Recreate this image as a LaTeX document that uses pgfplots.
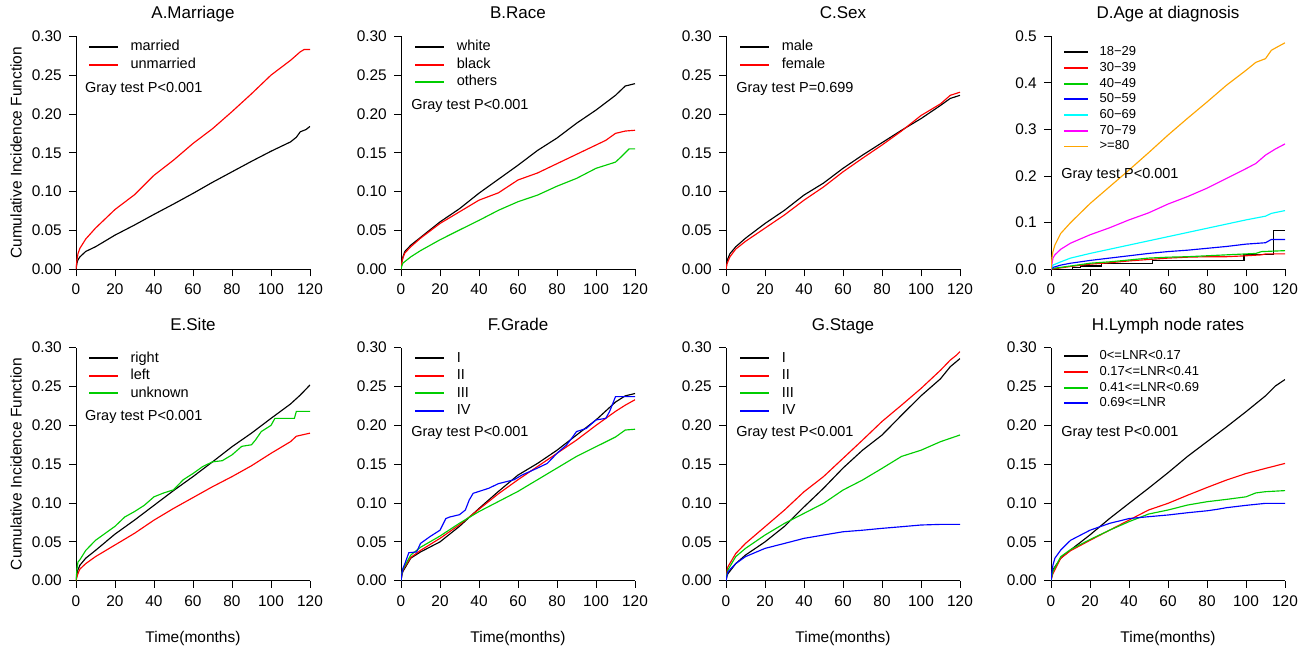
\documentclass[border=0pt]{standalone}
\usepackage{fontspec}
\setmainfont{Liberation Sans}
\usepackage{pgfplots}
\pgfplotsset{compat=1.18}
\definecolor{rgreen}{RGB}{0,205,0}
\definecolor{rblue}{RGB}{0,0,255}
\definecolor{rred}{RGB}{255,0,0}
\definecolor{rcyan}{RGB}{0,255,255}
\definecolor{rmag}{RGB}{255,0,255}
\definecolor{rorange}{RGB}{255,165,0}
\pgfplotsset{legend image code/.code={\draw[#1, line width=1.8pt] (0pt,0pt) -- (29pt,0pt); \path (41pt,0pt);}}
\pgfplotsset{
  cif/.style={
    scale only axis, width=234pt, height=233pt,
    xmin=0, xmax=120, ymin=0, ymax=0.3,
    axis lines=left, axis line style={-, line width=0.9pt},
    xtick={0,20,40,60,80,100,120},
    ytick={0,0.05,0.1,0.15,0.2,0.25,0.3},
    tick align=outside, major tick length=7pt,
    tick style={black, line width=0.9pt},
    xticklabel shift=7.7pt, yticklabel shift=7pt,
    /pgf/number format/assume math mode=true,
    yticklabel style={/pgf/number format/fixed, /pgf/number format/fixed zerofill, /pgf/number format/precision=2},
    ticklabel style={font=\fontsize{15.4}{18}\selectfont, inner sep=0pt},
    title style={at={(axis description cs:0.5,1)}, anchor=base, yshift=11.5pt, font=\fontsize{17}{20}\selectfont},
    xlabel style={at={(axis description cs:0.5,0)}, anchor=base, yshift=-62pt, font=\fontsize{15.5}{18}\selectfont},
    ylabel style={at={([xshift=-60pt]axis description cs:0,0.5)}, anchor=center, font=\fontsize{15.5}{18}\selectfont},
    every axis plot/.append style={line width=1.15pt},
    legend cell align=left,
    legend style={draw=none, fill=none, anchor=north west, inner sep=0pt, row sep=0pt,
      font=\fontsize{14.5}{17}\selectfont,
      nodes={inner sep=0pt, minimum height=17.5pt, text height=10.5pt, text depth=3pt}},
  },
  smallleg/.style={legend style={font=\fontsize{13}{15}\selectfont,
      nodes={inner sep=0pt, minimum height=15.7pt, text height=9.5pt, text depth=2.7pt}}},
}
\newcommand{\gray}[3]{\node[anchor=west, inner sep=0pt, font=\fontsize{14.5}{17}\selectfont] at (rel axis cs:#1,#2) {Gray test #3};}
\begin{document}
\begin{tikzpicture}
\useasboundingbox (0,0) rectangle (1310pt,647pt);
% ---------------- A
\begin{axis}[cif, at={(76pt,377.7pt)}, anchor=south west, title={A.Marriage},
  ylabel={Cumulative Incidence Function},
  legend style={at={(axis description cs:0.051,0.992)}}]
\addplot[black] coordinates {(0,0) (0.5,0.008) (1,0.012) (2,0.016) (5,0.023) (10,0.029) (20,0.044) (30,0.057) (40,0.0707) (50,0.084) (60,0.0977) (70,0.112) (80,0.1255) (90,0.139) (100,0.152) (105,0.158) (110,0.164) (113,0.170) (115,0.177) (118,0.180) (120,0.184)};
\addlegendentry{married}
\addplot[rred] coordinates {(0,0) (0.5,0.012) (1,0.02) (2,0.027) (5,0.039) (10,0.053) (20,0.077) (30,0.096) (40,0.121) (50,0.1405) (60,0.162) (70,0.181) (80,0.203) (90,0.226) (100,0.25) (110,0.269) (115,0.28) (117,0.283) (120,0.283)};
\addlegendentry{unmarried}
\gray{0.038}{0.774}{P<0.001}
\end{axis}
% ---------------- B
\begin{axis}[cif, at={(401pt,377.7pt)}, anchor=south west, title={B.Race},
  legend style={at={(axis description cs:0.056,0.992)}}]
\addplot[black] coordinates {(0,0) (0.5,0.01) (1,0.016) (2,0.023) (5,0.031) (10,0.041) (20,0.061) (30,0.078) (40,0.098) (50,0.116) (60,0.134) (70,0.153) (80,0.169) (90,0.188) (100,0.205) (110,0.224) (115,0.236) (120,0.239)};
\addlegendentry{white}
\addplot[rred] coordinates {(0,0) (0.5,0.01) (1,0.015) (2,0.021) (5,0.029) (10,0.040) (20,0.059) (30,0.074) (40,0.089) (50,0.0985) (60,0.115) (70,0.124) (80,0.136) (90,0.148) (100,0.16) (105,0.166) (110,0.175) (115,0.178) (120,0.179)};
\addlegendentry{black}
\addplot[rgreen] coordinates {(0,0) (0.5,0.005) (1,0.008) (5,0.016) (10,0.024) (20,0.038) (30,0.0506) (40,0.063) (50,0.076) (60,0.087) (70,0.0955) (80,0.107) (90,0.117) (100,0.13) (105,0.134) (110,0.138) (113,0.145) (115,0.15) (117,0.155) (120,0.155)};
\addlegendentry{others}
\gray{0.043}{0.70}{P<0.001}
\end{axis}
% ---------------- C
\begin{axis}[cif, at={(726pt,377.7pt)}, anchor=south west, title={C.Sex},
  legend style={at={(axis description cs:0.056,0.992)}}]
\addplot[black] coordinates {(0,0) (0.5,0.01) (1,0.014) (2,0.02) (5,0.029) (10,0.040) (20,0.059) (30,0.076) (40,0.0956) (50,0.111) (60,0.13) (70,0.147) (80,0.163) (90,0.179) (100,0.194) (110,0.211) (115,0.22) (120,0.224)};
\addlegendentry{male}
\addplot[rred] coordinates {(0,0) (0.5,0.007) (1,0.01) (2,0.016) (5,0.026) (10,0.036) (20,0.053) (30,0.07) (40,0.089) (50,0.106) (60,0.1255) (70,0.143) (80,0.16) (90,0.178) (100,0.198) (110,0.213) (115,0.224) (120,0.228)};
\addlegendentry{female}
\gray{0.043}{0.774}{P=0.699}
\end{axis}
% ---------------- D
\begin{axis}[cif, smallleg, at={(1051pt,377.7pt)}, anchor=south west, title={D.Age at diagnosis},
  ymax=0.5, ytick={0,0.1,0.2,0.3,0.4,0.5},
  yticklabel style={/pgf/number format/precision=1},
  legend image code/.code={\draw[#1, line width=1.8pt] (0pt,0pt) -- (24pt,0pt); \path (35pt,0pt);},
  legend style={at={(axis description cs:0.051,0.966)}}]
\addplot[black, const plot] coordinates {(0,0) (11,0.003) (15,0.007) (26,0.013) (52,0.018) (99,0.032) (114,0.083) (120,0.083)};
\addlegendentry{18−29}
\addplot[rred] coordinates {(0,0) (10,0.006) (20,0.011) (30,0.014) (40,0.018) (50,0.021) (60,0.024) (70,0.026) (80,0.027) (90,0.027) (100,0.029) (108,0.031) (110,0.033) (120,0.033)};
\addlegendentry{30−39}
\addplot[rgreen] coordinates {(0,0) (1,0.002) (10,0.007) (20,0.013) (30,0.016) (40,0.02) (50,0.024) (60,0.026) (70,0.027) (80,0.029) (90,0.031) (100,0.033) (105,0.034) (108,0.038) (120,0.04)};
\addlegendentry{40−49}
\addplot[rblue] coordinates {(0,0) (1,0.004) (5,0.009) (10,0.013) (20,0.019) (30,0.024) (40,0.029) (50,0.034) (60,0.038) (70,0.041) (80,0.045) (90,0.049) (100,0.054) (110,0.057) (113,0.064) (120,0.064)};
\addlegendentry{50−59}
\addplot[rcyan] coordinates {(0,0) (1,0.009) (5,0.016) (10,0.024) (20,0.034) (30,0.043) (40,0.052) (50,0.061) (60,0.07) (70,0.079) (80,0.088) (90,0.097) (100,0.106) (110,0.114) (113,0.12) (120,0.126)};
\addlegendentry{60−69}
\addplot[rmag] coordinates {(0,0) (0.5,0.012) (1,0.024) (2,0.031) (5,0.043) (10,0.056) (20,0.074) (30,0.089) (40,0.106) (50,0.121) (60,0.14) (70,0.156) (80,0.174) (90,0.195) (100,0.216) (105,0.227) (110,0.245) (115,0.258) (120,0.269)};
\addlegendentry{70−79}
\addplot[rorange] coordinates {(0,0) (0.5,0.025) (1,0.038) (2,0.052) (5,0.077) (10,0.1) (20,0.141) (30,0.177) (40,0.213) (50,0.25) (60,0.288) (70,0.324) (80,0.359) (90,0.395) (100,0.427) (105,0.444) (110,0.452) (113,0.47) (116,0.477) (120,0.486)};
\addlegendentry{>=80}
\gray{0.043}{0.405}{P<0.001}
\end{axis}
% ---------------- E
\begin{axis}[cif, at={(76pt,66.3pt)}, anchor=south west, title={E.Site},
  ylabel={Cumulative Incidence Function}, xlabel={Time(months)},
  legend style={at={(axis description cs:0.051,0.993)}}]
\addplot[black] coordinates {(0,0) (0.5,0.009) (1,0.014) (2,0.02) (5,0.029) (10,0.039) (20,0.06) (30,0.078) (40,0.097) (50,0.116) (60,0.134) (70,0.153) (80,0.1725) (90,0.19) (100,0.209) (110,0.2275) (115,0.239) (120,0.252)};
\addlegendentry{right}
\addplot[rred] coordinates {(0,0) (0.5,0.005) (1,0.009) (2,0.015) (5,0.022) (10,0.031) (20,0.046) (30,0.061) (40,0.078) (50,0.093) (60,0.107) (70,0.121) (80,0.134) (90,0.148) (100,0.164) (110,0.179) (113,0.186) (120,0.19)};
\addlegendentry{left}
\addplot[rgreen] coordinates {(0,0) (0.5,0.015) (1,0.024) (2,0.027) (5,0.039) (10,0.052) (15,0.061) (20,0.07) (25,0.082) (30,0.089) (35,0.097) (40,0.108) (45,0.113) (50,0.117) (55,0.13) (60,0.138) (65,0.147) (70,0.153) (75,0.1545) (80,0.162) (85,0.173) (90,0.175) (92,0.181) (95,0.192) (100,0.2) (102,0.209) (112,0.209) (113,0.218) (120,0.218)};
\addlegendentry{unknown}
\gray{0.038}{0.703}{P<0.001}
\end{axis}
% ---------------- F
\begin{axis}[cif, at={(401pt,66.3pt)}, anchor=south west, title={F.Grade},
  xlabel={Time(months)},
  legend style={at={(axis description cs:0.056,0.993)}}]
\addplot[black] coordinates {(0,0) (0.5,0.008) (1,0.012) (5,0.029) (10,0.037) (20,0.05) (30,0.07) (40,0.093) (50,0.115) (60,0.136) (70,0.151) (80,0.168) (90,0.1875) (100,0.207) (110,0.23) (115,0.238) (120,0.241)};
\addlegendentry{I}
\addplot[rred] coordinates {(0,0) (0.5,0.009) (1,0.014) (5,0.03) (10,0.039) (20,0.0545) (30,0.072) (40,0.092) (50,0.112) (60,0.13) (70,0.147) (80,0.164) (90,0.181) (100,0.2) (110,0.218) (115,0.226) (120,0.233)};
\addlegendentry{II}
\addplot[rgreen] coordinates {(0,0) (0.5,0.01) (1,0.015) (5,0.033) (10,0.043) (20,0.0575) (30,0.074) (40,0.089) (50,0.102) (60,0.115) (70,0.13) (80,0.145) (90,0.16) (100,0.1725) (110,0.185) (115,0.194) (120,0.195)};
\addlegendentry{III}
\addplot[rblue] coordinates {(0,0) (0.5,0.01) (1,0.016) (2,0.022) (4,0.036) (8,0.037) (10,0.048) (15,0.057) (20,0.065) (23,0.08) (25,0.082) (30,0.085) (33,0.091) (35,0.104) (37,0.1125) (45,0.119) (50,0.125) (58,0.13) (62,0.136) (70,0.145) (75,0.151) (80,0.164) (85,0.175) (88,0.185) (90,0.192) (95,0.196) (100,0.207) (105,0.209) (107,0.218) (110,0.237) (120,0.237)};
\addlegendentry{IV}
\gray{0.043}{0.634}{P<0.001}
\end{axis}
% ---------------- G
\begin{axis}[cif, at={(726pt,66.3pt)}, anchor=south west, title={G.Stage},
  xlabel={Time(months)},
  legend style={at={(axis description cs:0.056,0.993)}}]
\addplot[black] coordinates {(0,0) (0.5,0.006) (1,0.009) (5,0.022) (10,0.033) (20,0.05) (30,0.07) (40,0.095) (50,0.119) (60,0.145) (70,0.168) (80,0.1875) (90,0.213) (100,0.238) (110,0.26) (115,0.2755) (120,0.286)};
\addlegendentry{I}
\addplot[rred] coordinates {(0,0) (0.5,0.012) (1,0.018) (5,0.035) (10,0.048) (20,0.0695) (30,0.091) (40,0.1145) (50,0.134) (60,0.1575) (70,0.181) (80,0.205) (90,0.226) (100,0.2475) (110,0.271) (115,0.284) (118,0.29) (120,0.295)};
\addlegendentry{II}
\addplot[rgreen] coordinates {(0,0) (0.5,0.009) (1,0.014) (5,0.031) (10,0.0416) (20,0.0588) (30,0.0738) (40,0.0867) (50,0.0996) (60,0.1167) (70,0.1296) (80,0.1446) (90,0.16) (100,0.168) (110,0.179) (120,0.1876)};
\addlegendentry{III}
\addplot[rblue] coordinates {(0,0) (0.5,0.007) (1,0.0116) (5,0.022) (10,0.031) (20,0.0416) (30,0.048) (40,0.0545) (50,0.0588) (60,0.063) (70,0.065) (80,0.0674) (90,0.0695) (100,0.0717) (110,0.0725) (120,0.0725)};
\addlegendentry{IV}
\gray{0.043}{0.634}{P<0.001}
\end{axis}
% ---------------- H
\begin{axis}[cif, smallleg, at={(1051pt,66.3pt)}, anchor=south west, title={H.Lymph node rates},
  xlabel={Time(months)},
  legend image code/.code={\draw[#1, line width=1.8pt] (0pt,0pt) -- (24pt,0pt); \path (35pt,0pt);},
  legend style={at={(axis description cs:0.051,0.998)}}]
\addplot[black] coordinates {(0,0) (0.5,0.009) (1,0.014) (5,0.029) (10,0.0395) (20,0.059) (30,0.08) (40,0.0996) (50,0.119) (60,0.139) (70,0.16) (80,0.179) (90,0.198) (100,0.2176) (110,0.238) (115,0.2506) (120,0.259)};
\addlegendentry{0<=LNR<0.17}
\addplot[rred] coordinates {(0,0) (0.5,0.005) (1,0.009) (5,0.029) (10,0.0386) (20,0.052) (30,0.065) (40,0.078) (50,0.091) (60,0.0996) (70,0.11) (80,0.12) (90,0.1296) (100,0.138) (110,0.1446) (120,0.151)};
\addlegendentry{0.17<=LNR<0.41}
\addplot[rgreen] coordinates {(0,0) (0.5,0.007) (1,0.012) (5,0.031) (10,0.04) (20,0.053) (30,0.065) (40,0.076) (50,0.0858) (60,0.091) (70,0.0974) (80,0.1017) (90,0.1047) (100,0.108) (105,0.113) (110,0.1146) (120,0.116)};
\addlegendentry{0.41<=LNR<0.69}
\addplot[rblue] coordinates {(0,0) (0.5,0.012) (1,0.02) (2,0.029) (5,0.0395) (10,0.052) (20,0.065) (30,0.0738) (40,0.08) (50,0.0824) (60,0.0846) (70,0.0875) (80,0.09) (85,0.0918) (90,0.094) (100,0.097) (110,0.0996) (120,0.0996)};
\addlegendentry{0.69<=LNR}
\gray{0.043}{0.634}{P<0.001}
\end{axis}
\end{tikzpicture}
\end{document}
